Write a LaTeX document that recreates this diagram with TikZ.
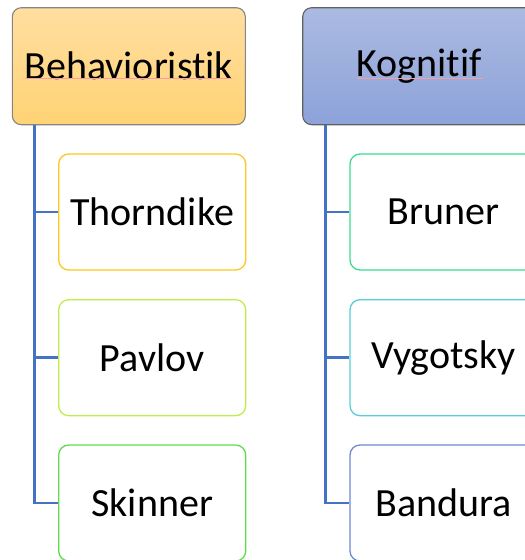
\documentclass[tikz,border=0pt]{standalone}
\usepackage{fontspec}
\setmainfont{Carlito}[Ligatures=NoCommon]
\usetikzlibrary{calc}
\definecolor{conn}{HTML}{4472C4}
\definecolor{bTop}{HTML}{FFDEA0}
\definecolor{bBot}{HTML}{FFD375}
\definecolor{kTop}{HTML}{ABBAE1}
\definecolor{kBot}{HTML}{8CA2D9}
\definecolor{cThorn}{HTML}{FFC820}
\definecolor{cPav}{HTML}{C2EC48}
\definecolor{cSkin}{HTML}{5EDE4C}
\definecolor{cBrun}{HTML}{3EDC8E}
\definecolor{cVyg}{HTML}{55D0D8}
\definecolor{cBand}{HTML}{6A8AD2}
\definecolor{spell}{HTML}{F2A0A0}
\tikzset{
  parentbox/.style={draw, line width=1.1pt, rounded corners=9pt, minimum width=233pt, minimum height=117pt, inner sep=0pt, font=\fontsize{40}{44}\selectfont},
  childbox/.style={draw, line width=1.3pt, fill=white, rounded corners=10pt, minimum width=187pt, minimum height=116pt, inner sep=0pt, font=\fontsize{40}{44}\selectfont},
  link/.style={draw=conn, line width=2.6pt},
  squiggle/.style={draw=spell, line width=0.8pt}
}
\begin{document}
\begin{tikzpicture}[x=1pt,y=-1pt]
\useasboundingbox (0,0) rectangle (525,560);
\clip (0,0) rectangle (525,560);
% parents
\node[parentbox, draw=black!48, top color=bTop, bottom color=bBot] (B) at (128.8,66.2) {Behavioristik};
\node[parentbox, draw=black!62, top color=kTop, bottom color=kBot] (K) at (419.2,66.2) {Kognitif};
% children left
\node[childbox, draw=cThorn] (T) at (152.2,212) {Thorndike};
\node[childbox, draw=cPav] (P) at (152.2,357.7) {Pavlov};
\node[childbox, draw=cSkin] (S) at (152.2,503) {Skinner};
% children right
\node[childbox, draw=cBrun] (Br) at (443.5,212) {Bruner};
\node[childbox, draw=cVyg] (V) at (443.5,357.7) {Vygotsky};
\node[childbox, draw=cBand] (Ba) at (443.5,503) {Bandura};
% connectors
\coordinate (bs) at ($(B.south west)+(22.5,0)$);
\coordinate (ks) at ($(K.south west)+(23.3,0)$);
\draw[link] (bs) |- (T.west);
\draw[link] (bs) |- (P.west);
\draw[link] (bs) |- (S.west);
\draw[link] (ks) |- (Br.west);
\draw[link] (ks) |- (V.west);
\draw[link] (ks) |- (Ba.west);
% spell-check marks
\draw[squiggle] (25,78.5) -- (232,78.5);
\draw[squiggle] (357,78.5) -- (483,78.5);
\end{tikzpicture}
\end{document}
